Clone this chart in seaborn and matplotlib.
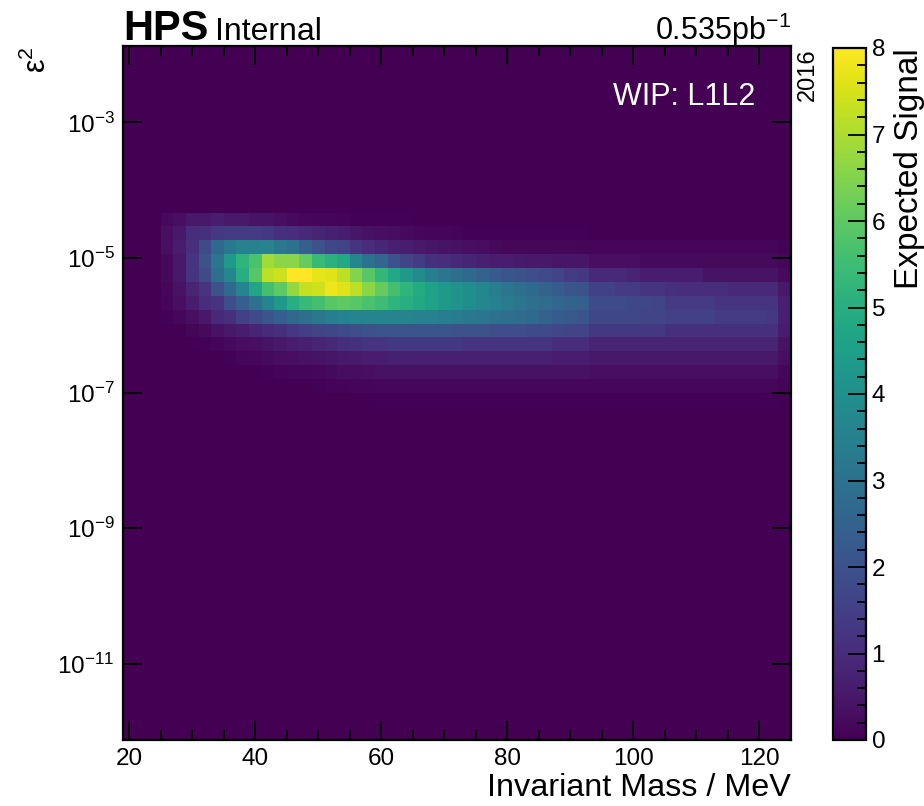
import numpy as np
import pandas as pd
import matplotlib
matplotlib.use("Agg")
import matplotlib.pyplot as plt
import seaborn as sns
from matplotlib.ticker import FixedLocator, MultipleLocator, NullLocator, LogFormatterSciNotation

# binning of the scan: 2 MeV mass bins, log10(eps^2) bins
mass_edges = np.arange(19, 126, 2)
log_eps2_edges = np.linspace(-12.13, -1.87, 51)

# mass bin centres of the non-empty columns (26 ... 124 MeV)
mass_centres = np.arange(26, 125, 2)
# index (from the top of the plot) of the first non-empty eps^2 row
first_row = 12

# expected signal, one list per eps^2 row, top to bottom, one value per mass bin
sig_r12 = [0.2, 0.3, 0.5, 0.5, 0.6, 0.5, 0.5, 0.4, 0.4, 0.3,
           0.2, 0.15, 0.1, 0.1, 0.08, 0.06, 0.05, 0.05, 0.05, 0.05,
           0, 0, 0, 0, 0, 0, 0, 0, 0, 0,
           0, 0, 0, 0, 0, 0, 0, 0, 0, 0,
           0, 0, 0, 0, 0, 0, 0, 0, 0, 0]
sig_r13 = [0.3, 0.5, 1.0, 1.1, 1.3, 1.4, 1.4, 1.4, 1.3, 1.1,
           1.0, 0.9, 0.8, 0.7, 0.6, 0.45, 0.35, 0.3, 0.25, 0.2,
           0.15, 0.12, 0.1, 0.08, 0.06, 0.06, 0.06, 0.06, 0.05, 0.05,
           0.05, 0.05, 0.05, 0.05, 0.03, 0.03, 0.03, 0.03, 0.03, 0.03,
           0.03, 0.03, 0.03, 0.03, 0.03, 0.03, 0.03, 0.03, 0.03, 0.03]
sig_r14 = [0.3, 0.6, 1.1, 1.8, 2.7, 3.2, 3.5, 3.5, 3.6, 3.2,
           3.0, 2.4, 2.0, 1.7, 1.6, 1.2, 1.0, 0.85, 0.7, 0.6,
           0.5, 0.45, 0.4, 0.35, 0.3, 0.25, 0.2, 0.15, 0.15, 0.15,
           0.15, 0.15, 0.15, 0.1, 0.1, 0.1, 0.1, 0.1, 0.1, 0.1,
           0.1, 0.1, 0.1, 0.1, 0.1, 0.1, 0.1, 0.1, 0.1, 0.05]
sig_r15 = [0.2, 0.5, 1.2, 2.0, 3.1, 4.3, 5.2, 5.7, 6.9, 6.6,
           6.6, 6.1, 5.4, 5.1, 4.8, 3.7, 3.0, 2.6, 2.0, 1.6,
           1.4, 1.1, 1.0, 0.9, 0.8, 0.7, 0.65, 0.6, 0.55, 0.5,
           0.5, 0.45, 0.45, 0.45, 0.3, 0.3, 0.3, 0.3, 0.2, 0.2,
           0.2, 0.2, 0.2, 0.2, 0.2, 0.2, 0.2, 0.2, 0.2, 0.1]
sig_r16 = [0.2, 0.5, 1.2, 1.8, 2.9, 3.7, 5.0, 5.9, 7.2, 7.4,
           8.0, 8.0, 7.7, 7.6, 7.2, 6.5, 5.9, 5.3, 4.8, 4.3,
           3.8, 3.4, 3.1, 2.9, 2.7, 2.5, 2.3, 2.1, 2.0, 1.9,
           1.8, 1.6, 1.4, 1.3, 0.9, 0.9, 0.9, 0.8, 0.6, 0.6,
           0.6, 0.6, 0.6, 0.4, 0.4, 0.4, 0.4, 0.4, 0.4, 0.2]
sig_r17 = [0.15, 0.4, 0.8, 1.2, 2.0, 2.7, 3.6, 4.7, 5.6, 6.0,
           6.7, 7.3, 7.4, 7.8, 7.6, 7.2, 6.6, 6.1, 5.6, 5.2,
           4.9, 4.6, 4.3, 4.1, 3.9, 3.7, 3.4, 3.1, 2.9, 2.7,
           2.5, 2.3, 2.1, 2.0, 1.5, 1.5, 1.4, 1.4, 1.2, 1.2,
           1.1, 1.0, 1.0, 1.0, 1.0, 0.9, 0.9, 0.9, 0.9, 0.5]
sig_r18 = [0.1, 0.3, 0.6, 1.0, 1.2, 1.9, 2.4, 3.0, 3.6, 4.3,
           5.0, 5.4, 5.6, 5.9, 6.0, 5.9, 5.7, 5.5, 5.2, 5.0,
           4.8, 4.6, 4.3, 4.1, 3.9, 3.7, 3.5, 3.3, 3.1, 2.9,
           2.8, 2.6, 2.5, 2.4, 1.8, 1.8, 1.8, 1.7, 1.7, 1.6,
           1.4, 1.4, 1.4, 1.4, 1.2, 1.2, 1.2, 1.2, 1.2, 0.7]
sig_r19 = [0.05, 0.15, 0.3, 0.5, 0.9, 1.1, 1.5, 1.8, 2.1, 2.4,
           2.7, 2.9, 3.2, 3.4, 3.5, 3.6, 3.6, 3.6, 3.6, 3.6,
           3.5, 3.5, 3.4, 3.3, 3.2, 3.1, 3.0, 2.9, 2.8, 2.7,
           2.5, 2.3, 2.2, 2.1, 1.7, 1.7, 1.7, 1.7, 1.6, 1.6,
           1.5, 1.5, 1.5, 1.5, 1.4, 1.4, 1.4, 1.4, 1.3, 0.7]
sig_r20 = [0, 0, 0.1, 0.2, 0.35, 0.5, 0.65, 0.8, 0.95, 1.1,
           1.3, 1.45, 1.6, 1.7, 1.8, 1.9, 2.0, 2.1, 2.1, 2.1,
           2.1, 2.1, 2.1, 2.0, 2.0, 2.0, 1.9, 1.9, 1.9, 1.8,
           1.8, 1.7, 1.6, 1.6, 1.3, 1.3, 1.3, 1.3, 1.3, 1.3,
           1.1, 1.1, 1.1, 1.1, 1.1, 1.1, 1.1, 1.1, 1.1, 0.6]
sig_r21 = [0, 0, 0, 0.05, 0.1, 0.2, 0.25, 0.3, 0.4, 0.5,
           0.6, 0.7, 0.8, 0.9, 1.0, 1.1, 1.2, 1.2, 1.3, 1.3,
           1.3, 1.3, 1.3, 1.3, 1.2, 1.2, 1.2, 1.2, 1.2, 1.2,
           1.2, 1.0, 1.0, 1.0, 0.8, 0.8, 0.8, 0.8, 0.8, 0.8,
           0.8, 0.8, 0.8, 0.8, 0.8, 0.8, 0.8, 0.8, 0.8, 0.4]
sig_r22 = [0, 0, 0, 0, 0, 0.05, 0.1, 0.15, 0.2, 0.25,
           0.3, 0.35, 0.4, 0.45, 0.5, 0.55, 0.6, 0.65, 0.7, 0.7,
           0.7, 0.7, 0.7, 0.7, 0.7, 0.7, 0.7, 0.7, 0.7, 0.7,
           0.7, 0.6, 0.6, 0.6, 0.5, 0.5, 0.5, 0.5, 0.5, 0.5,
           0.5, 0.5, 0.5, 0.5, 0.5, 0.5, 0.5, 0.5, 0.5, 0.3]
sig_r23 = [0, 0, 0, 0, 0, 0, 0, 0, 0.05, 0.08,
           0.1, 0.12, 0.15, 0.2, 0.25, 0.28, 0.3, 0.35, 0.35, 0.35,
           0.35, 0.35, 0.35, 0.35, 0.35, 0.35, 0.35, 0.35, 0.35, 0.35,
           0.35, 0.35, 0.35, 0.35, 0.3, 0.3, 0.3, 0.3, 0.3, 0.3,
           0.3, 0.3, 0.3, 0.3, 0.3, 0.3, 0.3, 0.3, 0.3, 0.15]
sig_r24 = [0, 0, 0, 0, 0, 0, 0, 0, 0, 0,
           0, 0.03, 0.05, 0.07, 0.08, 0.1, 0.12, 0.15, 0.15, 0.15,
           0.15, 0.15, 0.15, 0.15, 0.15, 0.15, 0.15, 0.15, 0.15, 0.15,
           0.15, 0.15, 0.15, 0.15, 0.15, 0.15, 0.15, 0.15, 0.15, 0.15,
           0.15, 0.15, 0.15, 0.15, 0.15, 0.15, 0.15, 0.15, 0.15, 0.08]
sig_r25 = [0, 0, 0, 0, 0, 0, 0, 0, 0, 0,
           0, 0, 0, 0, 0, 0, 0, 0.05, 0.05, 0.05,
           0.05, 0.05, 0.05, 0.05, 0.05, 0.05, 0.05, 0.05, 0.05, 0.05,
           0.05, 0.05, 0.05, 0.05, 0.05, 0.05, 0.05, 0.05, 0.05, 0.05,
           0.05, 0.05, 0.05, 0.05, 0.05, 0.05, 0.05, 0.05, 0.05, 0.03]

signal_rows = [sig_r12, sig_r13, sig_r14, sig_r15, sig_r16, sig_r17, sig_r18,
               sig_r19, sig_r20, sig_r21, sig_r22, sig_r23, sig_r24, sig_r25]

y_ticks = [1e-11, 1e-9, 1e-7, 1e-5, 1e-3]

# long-form table for histplot (weights = expected signal)
log_centres = 0.5 * (log_eps2_edges[:-1] + log_eps2_edges[1:])
n_rows = len(log_centres)
records = []
for r, row in enumerate(signal_rows):
    lc = log_centres[n_rows - 1 - (first_row + r)]
    for m, s in zip(mass_centres, row):
        records.append((m, 10 ** lc, s))
df = pd.DataFrame(records, columns=["mass", "eps2", "signal"])

sns.set_style("ticks", rc={
    "axes.axisbelow": False,
    "axes.edgecolor": "black",
    "axes.labelcolor": "black",
    "text.color": "black",
    "xtick.color": "black",
    "ytick.color": "black",
})
plt.rcParams["font.family"] = ["Liberation Sans", "DejaVu Sans"]
plt.rcParams["mathtext.fontset"] = "custom"
plt.rcParams["mathtext.rm"] = "Liberation Sans"
plt.rcParams["mathtext.it"] = "Liberation Sans:italic"
plt.rcParams["mathtext.bf"] = "Liberation Sans:bold"

fig = plt.figure(figsize=(9.24, 8.06), dpi=100)
ax = fig.add_axes([123 / 924, 1 - 740 / 806, 668 / 924, 694 / 806])
cax = fig.add_axes([833 / 924, 1 - 740 / 806, 33 / 924, 692 / 806])

sns.histplot(data=df, x="mass", y="eps2", weights="signal",
             bins=[mass_edges, log_eps2_edges], log_scale=(False, True),
             thresh=None, cmap="viridis", vmin=0, vmax=8,
             cbar=True, cbar_ax=cax, ax=ax)

ax.set_xlim(mass_edges[0], mass_edges[-1])
ax.set_ylim(10 ** log_eps2_edges[0], 10 ** log_eps2_edges[-1])
ax.set_axisbelow(False)
cax.set_axisbelow(False)

# axis styling (HEP look: inward ticks on all sides)
ax.xaxis.set_major_locator(MultipleLocator(20))
ax.xaxis.set_minor_locator(MultipleLocator(5))
ax.yaxis.set_major_locator(FixedLocator(y_ticks))
ax.yaxis.set_major_formatter(LogFormatterSciNotation())
ax.yaxis.set_minor_locator(NullLocator())
ax.tick_params(which="both", direction="in", top=True, right=True,
               labelsize=17.5, width=1.3, pad=6, color="black")
ax.tick_params(which="major", length=14)
ax.tick_params(which="minor", length=7)
for sp in ax.spines.values():
    sp.set_linewidth(1.6)
    sp.set_color("black")

ax.set_xlabel("Invariant Mass / MeV", fontsize=23.3, loc="right", labelpad=2)
ax.set_ylabel("ε$^2$", fontsize=22, loc="top")
ax.yaxis.set_label_coords(-0.105, 1.0)

# colorbar
cax.yaxis.set_major_locator(MultipleLocator(1))
cax.yaxis.set_minor_locator(MultipleLocator(0.2))
cax.tick_params(which="both", direction="in", right=True, left=False,
                labelsize=17.5, width=1.3, pad=4, color="black")
cax.tick_params(which="major", length=13)
cax.tick_params(which="minor", length=6.5)
cax.set_ylabel("Expected Signal", fontsize=24, loc="top", labelpad=6)
cax.spines["outline"].set_linewidth(1.6)
cax.spines["outline"].set_color("black")

# labels around the plot
ax.text(0.0, 1.008, "HPS", transform=ax.transAxes, fontsize=30,
        fontweight="bold", ha="left", va="baseline")
ax.text(0.1377, 1.008, "Internal", transform=ax.transAxes, fontsize=23,
        ha="left", va="baseline")
ax.text(1.0, 1.008, "0.535pb$^{-1}$", transform=ax.transAxes, fontsize=22,
        ha="right", va="baseline")
ax.text(0.946, 0.927, "WIP: L1L2", transform=ax.transAxes, fontsize=22,
        color="white", ha="right", va="center")
ax.text(1.0255, 0.997, "2016", transform=ax.transAxes, fontsize=17,
        rotation=90, ha="center", va="top")

fig.savefig("out.png", dpi=100)
